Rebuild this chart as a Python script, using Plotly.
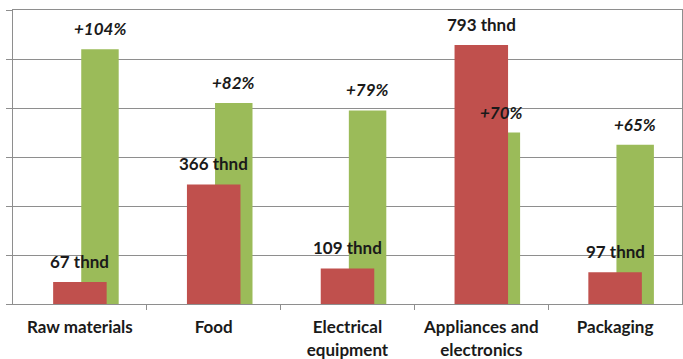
import plotly.graph_objects as go

categories = ["Raw materials", "Food", "Electrical<br>equipment",
              "Appliances and<br>electronics", "Packaging"]
volume_thnd = [67, 366, 109, 793, 97]
growth_pct = [104, 82, 79, 70, 65]

RED = "#C0504D"
GREEN = "#9BBB59"
GRID = "#8E8E8E"
TEXT = "#1a1a1a"
FONT = "Lato"
SIZE = 17

x = list(range(len(categories)))
red_width = 0.40
green_width = 0.28
green_offset = 0.01

fig = go.Figure()

# growth bars sit on the primary axis (drawn underneath)
fig.add_trace(go.Bar(
    x=x, y=growth_pct, yaxis="y", width=green_width, offset=green_offset,
    marker=dict(color=GREEN, line=dict(width=0)), name="Growth",
))
# volume bars on the overlaying axis (drawn on top)
fig.add_trace(go.Bar(
    x=x, y=volume_thnd, yaxis="y2", width=red_width,
    marker=dict(color=RED, line=dict(width=0)), name="Volume",
))

annotations = []
for i, v in enumerate(volume_thnd):
    annotations.append(dict(
        x=i, y=v, xref="x", yref="y2", yanchor="bottom", yshift=8,
        text=f"<b>{v} thnd</b>", showarrow=False,
        font=dict(family=FONT, size=SIZE, color=TEXT),
    ))
for i, p in enumerate(growth_pct):
    annotations.append(dict(
        x=i + green_offset + green_width / 2, y=p, xref="x", yref="y",
        yanchor="bottom", yshift=8,
        text=f"<b><i>+{p}%</i></b>", showarrow=False,
        font=dict(family=FONT, size=SIZE, color=TEXT),
    ))

fig.update_layout(
    width=683, height=359,
    margin=dict(l=13, r=1, t=10, b=55),
    paper_bgcolor="white", plot_bgcolor="white",
    barmode="overlay", showlegend=False,
    font=dict(family=FONT, size=SIZE, color=TEXT),
    annotations=annotations,
    xaxis=dict(
        range=[-0.5, len(categories) - 0.5],
        tickvals=x, ticktext=[f"<b>{c}</b>" for c in categories],
        ticks="", showgrid=False, zeroline=False,
        showline=True, linecolor=GRID, linewidth=1, mirror=True,
        tickfont=dict(family=FONT, size=SIZE, color=TEXT),
        ticklabelstandoff=8, automargin=False,
        minor=dict(tickvals=[i + 0.5 for i in x[:-1]], ticks="outside",
                   ticklen=5, tickcolor=GRID, showgrid=False),
    ),
    yaxis=dict(
        range=[0, 120], dtick=20, showticklabels=False,
        showgrid=True, gridcolor=GRID, gridwidth=1, zeroline=False,
        ticks="outside", ticklen=6, tickcolor=GRID,
        showline=True, linecolor=GRID, linewidth=1, mirror=True,
    ),
    yaxis2=dict(
        range=[0, 900], overlaying="y", side="left",
        showticklabels=False, showgrid=False, zeroline=False, ticks="",
    ),
)

fig.write_html("out.html")
